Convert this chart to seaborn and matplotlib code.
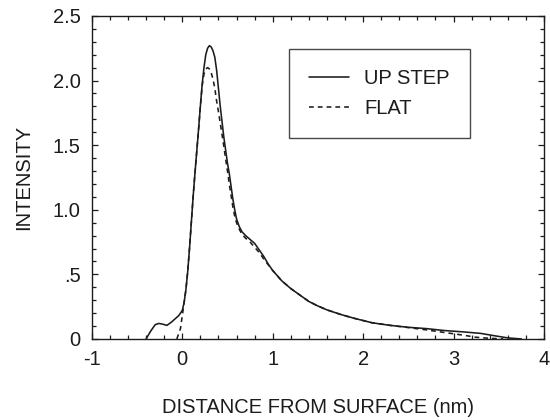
import numpy as np
import pandas as pd
import matplotlib
matplotlib.use("Agg")
import matplotlib.pyplot as plt
from matplotlib.ticker import MultipleLocator, FixedLocator
import seaborn as sns

# Intensity profiles versus distance from the surface (nm)
step_x = [-0.40, -0.35, -0.30, -0.26, -0.22, -0.17, -0.12, -0.08, -0.04, 0.00,
          0.02, 0.04, 0.06, 0.08, 0.10, 0.12, 0.14, 0.16, 0.18, 0.20, 0.22, 0.24,
          0.26, 0.28, 0.30, 0.32, 0.34, 0.36, 0.38, 0.40, 0.42, 0.44, 0.46, 0.48,
          0.50, 0.52, 0.54, 0.56, 0.58, 0.60, 0.63, 0.66, 0.70, 0.75, 0.80, 0.85,
          0.90, 0.95, 1.00, 1.05, 1.10, 1.20, 1.30, 1.40, 1.50, 1.60, 1.75, 1.90,
          2.10, 2.30, 2.50, 2.70, 2.90, 3.10, 3.30, 3.45, 3.60, 3.75]
step_y = [0.00, 0.06, 0.11, 0.12, 0.115, 0.105, 0.13, 0.155, 0.18, 0.22,
          0.28, 0.38, 0.52, 0.70, 0.90, 1.10, 1.28, 1.45, 1.62, 1.80, 1.97, 2.10,
          2.20, 2.25, 2.27, 2.26, 2.23, 2.18, 2.08, 1.94, 1.80, 1.68, 1.56, 1.46,
          1.36, 1.28, 1.18, 1.08, 1.00, 0.93, 0.87, 0.83, 0.80, 0.77, 0.74, 0.69,
          0.64, 0.58, 0.53, 0.49, 0.45, 0.39, 0.34, 0.29, 0.255, 0.225, 0.19, 0.16,
          0.125, 0.105, 0.09, 0.08, 0.065, 0.055, 0.043, 0.025, 0.008, 0.00]

flat_x = [-0.06, -0.02, 0.02, 0.04, 0.06, 0.08, 0.10, 0.12, 0.14, 0.16, 0.18,
          0.20, 0.22, 0.24, 0.26, 0.28, 0.30, 0.32, 0.34, 0.36, 0.38, 0.40, 0.42,
          0.44, 0.46, 0.48, 0.50, 0.52, 0.54, 0.56, 0.58, 0.60, 0.63, 0.66, 0.70,
          0.75, 0.80, 0.85, 0.90, 0.95, 1.00, 1.05, 1.10, 1.20, 1.30, 1.40, 1.50,
          1.60, 1.75, 1.90, 2.10, 2.30, 2.50, 2.70, 2.90, 3.10, 3.25, 3.40, 3.55]
flat_y = [0.00, 0.08, 0.28, 0.38, 0.52, 0.70, 0.90, 1.10, 1.28, 1.45, 1.62,
          1.80, 1.96, 2.05, 2.09, 2.10, 2.09, 2.06, 2.01, 1.94, 1.84, 1.76, 1.67,
          1.58, 1.49, 1.39, 1.30, 1.20, 1.11, 1.02, 0.95, 0.90, 0.85, 0.81, 0.78,
          0.75, 0.71, 0.67, 0.62, 0.575, 0.53, 0.49, 0.45, 0.39, 0.34, 0.29, 0.255,
          0.225, 0.19, 0.16, 0.125, 0.105, 0.088, 0.07, 0.05, 0.03, 0.013, 0.005, 0.00]

series_names = ["UP STEP", "FLAT"]
x_ticks = [-1, 0, 1, 2, 3, 4]
x_tick_labels = ["-1", "0", "1", "2", "3", "4"]
y_ticks = [0, 0.5, 1.0, 1.5, 2.0, 2.5]
y_tick_labels = ["0", ".5", "1.0", "1.5", "2.0", "2.5"]

df = pd.concat([
    pd.DataFrame({"x": step_x, "y": step_y, "series": series_names[0]}),
    pd.DataFrame({"x": flat_x, "y": flat_y, "series": series_names[1]}),
], ignore_index=True)

sns.set_theme(style="ticks")
plt.rcParams["font.family"] = ["Liberation Sans", "DejaVu Sans"]

ink = "#1c1c1c"
fig = plt.figure(figsize=(5.5, 4.2), dpi=100)
ax = fig.add_axes([0.167, 0.193, 0.822, 0.769])

sns.lineplot(data=df, x="x", y="y", style="series", style_order=series_names,
             dashes={"UP STEP": "", "FLAT": (3, 2.5)}, color=ink, linewidth=1.15,
             estimator=None, sort=False, ax=ax, legend=False)

ax.set_xlim(-1, 4)
ax.set_ylim(0, 2.5)
ax.xaxis.set_major_locator(FixedLocator(x_ticks))
ax.set_xticklabels(x_tick_labels)
ax.yaxis.set_major_locator(FixedLocator(y_ticks))
ax.set_yticklabels(y_tick_labels)
ax.xaxis.set_minor_locator(MultipleLocator(0.2))
ax.yaxis.set_minor_locator(MultipleLocator(0.1))
ax.tick_params(which="both", direction="in", top=True, right=True,
               color=ink, width=0.9)
ax.tick_params(which="major", length=4.5, labelsize=14.5, labelcolor=ink, pad=8)
ax.tick_params(which="minor", length=3)
for s in ax.spines.values():
    s.set_color(ink)
    s.set_linewidth(1.0)

ax.set_xlabel("DISTANCE FROM SURFACE (nm)", fontsize=14.5, color=ink, labelpad=21)
ax.set_ylabel("INTENSITY", fontsize=14.5, color=ink, labelpad=14)

handles = [plt.Line2D([], [], color=ink, lw=1.15),
           plt.Line2D([], [], color=ink, lw=1.15, ls=(0, (3, 2.5)))]
leg = ax.legend(handles, series_names, loc="upper left",
                bbox_to_anchor=(0.436, 0.898), fontsize=14.5, frameon=True,
                fancybox=False, edgecolor=ink, handlelength=2.0,
                handletextpad=0.75, borderpad=1.0, labelspacing=0.55,
                borderaxespad=0)
leg.get_frame().set_linewidth(1.0)
for t in leg.get_texts():
    t.set_color(ink)

fig.savefig("out.png", dpi=100, facecolor="white")
